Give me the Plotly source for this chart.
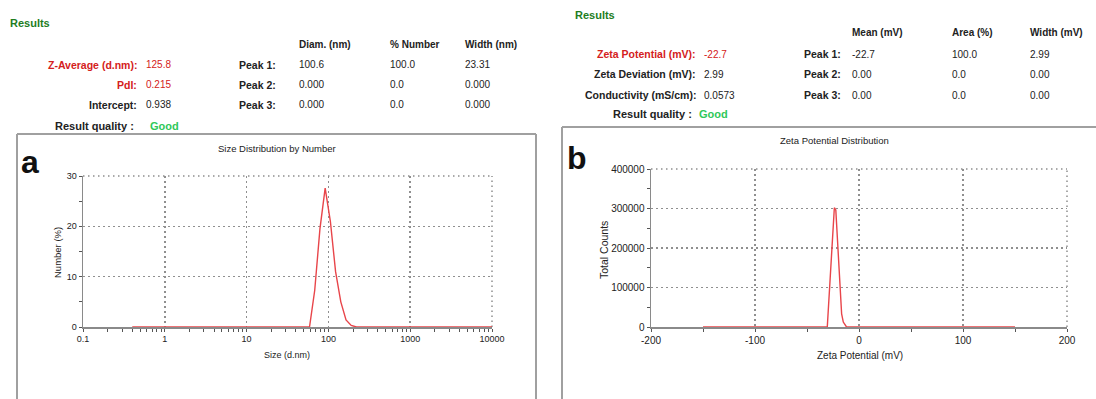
import plotly.graph_objects as go

# ---------------- data ----------------
size_nm = [0.4, 58.77, 68.06, 78.82, 91.28, 105.7, 122.4, 141.8, 164.2, 190.1, 220.2, 10000]
number_pct = [0, 0, 7.3, 19.5, 27.6, 21.0, 11.0, 5.0, 1.4, 0.3, 0, 0]

zeta_mv = [-150, -30.5, -23.7, -22.3, -16.7, -15.1, -12.0, 150]
total_counts = [0, 0, 302000, 296000, 33000, 12500, 0, 0]

size_xticks = [0.1, 1, 10, 100, 1000, 10000]
size_xticklabels = ["0.1", "1", "10", "100", "1000", "10000"]
size_yticks = [0, 10, 20, 30]
zeta_xticks = [-200, -100, 0, 100, 200]
zeta_xticklabels = ["-200", "-100", "0", "100", "200"]
zeta_yticks = [0, 100000, 200000, 300000, 400000]

size_labels = ["Z-Average (d.nm):", "PdI:", "Intercept:"]
size_values = ["125.8", "0.215", "0.938"]
size_headers = ["Diam. (nm)", "% Number", "Width (nm)"]
size_peaks = [["100.6", "100.0", "23.31"], ["0.000", "0.0", "0.000"], ["0.000", "0.0", "0.000"]]

zeta_labels = ["Zeta Potential (mV):", "Zeta Deviation (mV):", "Conductivity (mS/cm):"]
zeta_values = ["-22.7", "2.99", "0.0573"]
zeta_headers = ["Mean (mV)", "Area (%)", "Width (mV)"]
zeta_peaks = [["-22.7", "100.0", "2.99"], ["0.00", "0.0", "0.00"], ["0.00", "0.0", "0.00"]]

peak_names = ["Peak 1:", "Peak 2:", "Peak 3:"]

# ---------------- layout helpers ----------------
W, H = 1096, 399
FONT = "Liberation Sans, Arial, sans-serif"
RED = "#d42020"
DGREEN = "#1e7d1e"
LGREEN = "#2fc85a"
GRID = "#8f8f8f"
AXIS = "#8a8a8a"
LINE_RED = "#e8454a"
DOTS = "1.5px,3.5px"
TXT = "#222"


def px(x):
    return x / W


def py(y):
    return 1 - y / H


annotations = []


def txt(x, y, s, size=9, color=TXT, bold=False, anchor="left", angle=0):
    if bold:
        s = "<b>" + s + "</b>"
    annotations.append(dict(
        x=px(x), y=py(y), xref="paper", yref="paper", text=s, showarrow=False,
        xanchor=anchor, yanchor="middle", textangle=angle,
        font=dict(family=FONT, size=size, color=color)))


LBL = 10.5   # bold label size
VAL = 10     # value size

# ----- left results block -----
txt(8, 23, "Results", 11, DGREEN, True)
for j, h in enumerate(size_headers):
    txt([297, 388, 463][j], 45, h, VAL, TXT, True)
for i in range(3):
    y = [65, 85, 105][i]
    col = RED if i < 2 else TXT
    txt(139, y, size_labels[i], LBL, col, True, "right")
    txt(144, y, size_values[i], VAL, col)
    txt(237, y, peak_names[i], LBL, TXT, True)
    for j in range(3):
        txt([297, 388, 463][j], y, size_peaks[i][j], VAL)
txt(136, 126, "Result quality :", 11, TXT, True, "right")
txt(148, 126, "Good", 11, LGREEN, True)

# ----- right results block -----
txt(573, 15, "Results", 11, DGREEN, True)
for j, h in enumerate(zeta_headers):
    txt([850, 950, 1028][j], 33, h, VAL, TXT, True)
for i in range(3):
    y = [54, 74, 95][i]
    col = RED if i == 0 else TXT
    txt(698, y, zeta_labels[i], LBL, col, True, "right")
    txt(702, y, zeta_values[i], VAL, col)
    txt(802, y, peak_names[i], LBL, TXT, True)
    for j in range(3):
        txt([850, 950, 1028][j], y, zeta_peaks[i][j], VAL)
txt(694, 114, "Result quality :", 11, TXT, True, "right")
txt(697, 114, "Good", 11, LGREEN, True)

# ----- chart titles / labels -----
txt(277, 148, "Size Distribution by Number", 9.5, TXT, False, "center")
txt(834, 141, "Zeta Potential Distribution", 9.5, TXT, False, "center")
txt(30, 162, "a", 32, "#111", True, "center")
txt(577, 158, "b", 32, "#111", True, "center")
txt(287, 355, "Size (d.nm)", 9, TXT, False, "center")
txt(860, 355, "Zeta Potential (mV)", 10, TXT, False, "center")
txt(57, 253, "Number (%)", 9.5, TXT, False, "center", -90)
txt(604, 250, "Total Counts", 10.5, TXT, False, "center", -90)

# ----- frames -----
shapes = []


def seg(x0, y0, x1, y1, color="#a0a0a0", w=2):
    shapes.append(dict(type="line", xref="paper", yref="paper",
                       x0=px(x0), y0=py(y0), x1=px(x1), y1=py(y1),
                       line=dict(color=color, width=w)))


seg(17, 134, 536, 134)
seg(17, 134, 17, 400)
seg(536, 134, 536, 400)
seg(562, 127, 1097, 127)
seg(562, 127, 562, 400)

# dotted top / right borders of both plot areas
for xa, ya in (("x", "y"), ("x2", "y2")):
    shapes.append(dict(type="line", xref=xa + " domain", yref=ya + " domain",
                       x0=0, x1=1, y0=1, y1=1, layer="below",
                       line=dict(color=GRID, width=1.5, dash=DOTS)))
    shapes.append(dict(type="line", xref=xa + " domain", yref=ya + " domain",
                       x0=1, x1=1, y0=0, y1=1, layer="below",
                       line=dict(color=GRID, width=1.5, dash=DOTS)))

# ---------------- figure ----------------
fig = go.Figure()
fig.add_trace(go.Scatter(x=size_nm, y=number_pct, mode="lines",
                         line=dict(color=LINE_RED, width=1.4), xaxis="x", yaxis="y",
                         hoverinfo="skip", cliponaxis=False))
fig.add_trace(go.Scatter(x=zeta_mv, y=total_counts, mode="lines",
                         line=dict(color=LINE_RED, width=1.4), xaxis="x2", yaxis="y2",
                         hoverinfo="skip", cliponaxis=False))

common = dict(showline=True, linecolor=AXIS, linewidth=1.5, showgrid=True,
              gridcolor=GRID, griddash=DOTS, gridwidth=1.5, zeroline=False,
              ticks="outside", ticklen=3, tickcolor="#555",
              fixedrange=True, layer="below traces", automargin=False)

fig.update_layout(
    width=W, height=H, margin=dict(l=0, r=0, t=0, b=0, pad=0, autoexpand=False),
    autosize=False,
    paper_bgcolor="white", plot_bgcolor="white", showlegend=False,
    annotations=annotations, shapes=shapes,
    xaxis=dict(domain=[px(83), px(492)], anchor="y", type="log", range=[-1, 4],
               tickvals=size_xticks, ticktext=size_xticklabels,
               tickfont=dict(family=FONT, size=9, color=TXT),
               minor=dict(ticks="outside", ticklen=3, tickcolor="#555", showgrid=False, dtick="D1"),
               **common),
    yaxis=dict(domain=[py(327), py(176)], anchor="x", range=[0, 30],
               tickvals=size_yticks,
               tickfont=dict(family=FONT, size=9, color=TXT),
               minor=dict(ticks="outside", ticklen=3, tickcolor="#555", showgrid=False, dtick=5),
               **common),
    xaxis2=dict(domain=[px(651), px(1067)], anchor="y2", range=[-200, 200],
                tickvals=zeta_xticks, ticktext=zeta_xticklabels,
                tickfont=dict(family=FONT, size=10, color=TXT),
                minor=dict(ticks="outside", ticklen=3, tickcolor="#555", showgrid=False, dtick=50),
                **common),
    yaxis2=dict(domain=[py(327), py(169)], anchor="x2", range=[0, 400000],
                tickvals=zeta_yticks, tickformat="d",
                tickfont=dict(family=FONT, size=10, color=TXT),
                minor=dict(ticks="outside", ticklen=3, tickcolor="#555", showgrid=False, dtick=50000),
                **common),
)

fig.write_html("out.html", config={"displayModeBar": False, "staticPlot": True},
               post_script="document.body.style.margin='0';document.body.style.overflow='hidden';")
